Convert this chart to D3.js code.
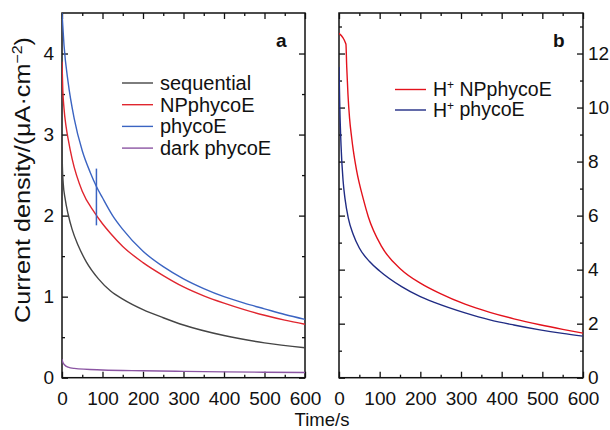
<!DOCTYPE html>
<html>
<head>
<meta charset="utf-8">
<script src="https://cdn.jsdelivr.net/npm/d3@7"></script>
<style>
  body { margin: 0; background: #fff; }
  svg text { font-family: "Liberation Sans", Arial, sans-serif; fill: #111; }
</style>
</head>
<body>
<div id="chart"></div>
<script>
// panel a: time (s) and current density (uA/cm2)
const seqT = [0, 1, 3, 8, 15, 25, 40, 60, 90, 120, 150, 200, 250, 300, 400, 500, 600]
const seqV = [2.85, 2.6, 2.4, 2.2, 2.02, 1.83, 1.63, 1.43, 1.22, 1.07, 0.97, 0.84, 0.74, 0.65, 0.52, 0.43, 0.37]

const npT = [0, 2, 5, 10, 15, 25, 50, 80, 100, 120, 150, 200, 250, 300, 350, 400, 450, 500, 550, 600]
const npV = [3.9, 3.55, 3.32, 3.1, 2.95, 2.7, 2.3, 2.04, 1.9, 1.78, 1.62, 1.42, 1.26, 1.12, 1.01, 0.92, 0.84, 0.77, 0.71, 0.66]

const phT = [0, 5, 15, 30, 50, 70, 85, 100, 125, 150, 200, 250, 300, 350, 400, 450, 500, 550, 600]
const phV = [4.5, 4.1, 3.65, 3.2, 2.8, 2.53, 2.36, 2.22, 2.0, 1.83, 1.56, 1.37, 1.22, 1.1, 1.0, 0.92, 0.85, 0.78, 0.72]

const darkT = [0, 2, 6, 15, 30, 100, 200, 300, 400, 500, 600]
const darkV = [0.23, 0.19, 0.16, 0.13, 0.115, 0.095, 0.085, 0.078, 0.072, 0.068, 0.065]

// error bar on phycoE
const errT = 85
const errLow = 1.88
const errHigh = 2.58

// panel b: proton current
const hNpT = [0, 17, 19, 22, 26, 31, 35, 43, 60, 72, 105, 154, 200, 248, 310, 371, 430, 494, 550, 600]
const hNpV = [12.75, 12.35, 11.5, 10.5, 9.6, 8.9, 8.43, 7.69, 6.6, 5.96, 4.85, 3.99, 3.5, 3.12, 2.72, 2.42, 2.18, 1.96, 1.79, 1.65]

const hPhT = [0, 2, 5, 10, 15, 23, 35, 50, 75, 100, 154, 200, 236, 310, 371, 430, 494, 550, 600]
const hPhV = [11.5, 10.0, 8.6, 7.3, 6.6, 5.9, 5.3, 4.8, 4.3, 3.95, 3.37, 3.0, 2.78, 2.4, 2.14, 1.95, 1.77, 1.64, 1.54]

const xTicks = [0, 100, 200, 300, 400, 500, 600]
const yTicksA = [0, 1, 2, 3, 4]
const yTicksB = [0, 2, 4, 6, 8, 10, 12]

const seriesA = [
  { name: "sequential", t: seqT, v: seqV, color: "#454545" },
  { name: "NPphycoE", t: npT, v: npV, color: "#e0262f" },
  { name: "phycoE", t: phT, v: phV, color: "#3b64c2" },
  { name: "dark phycoE", t: darkT, v: darkV, color: "#8b55a3" },
]
const seriesB = [
  { name: "NPphycoE", t: hNpT, v: hNpV, color: "#e3121c" },
  { name: "phycoE", t: hPhT, v: hPhV, color: "#202c84" },
]

const W = 610, H = 430
const plotTop = 13, plotBottom = 377.7
const svg = d3.select("#chart").append("svg").attr("width", W).attr("height", H)

function frame(x0, x1, yDomain, yMajor, yMinorStep, labelSide) {
  const x = d3.scaleLinear().domain([0, 600]).range([x0, x1])
  const y = d3.scaleLinear().domain(yDomain).range([plotBottom, plotTop])
  const g = svg.append("g")
  const xMinor = d3.range(50, 600, 100)
  const yMinor = d3.range(yMinorStep, yDomain[1], yMinorStep * 2)

  const axes = [
    [d3.axisBottom(x).tickValues(xTicks).tickSize(-6).tickPadding(14), `translate(0,${plotBottom})`],
    [d3.axisBottom(x).tickValues(xMinor).tickSize(-3).tickFormat(""), `translate(0,${plotBottom})`],
    [d3.axisTop(x).tickValues(xTicks).tickSize(-6).tickFormat(""), `translate(0,${plotTop})`],
    [d3.axisTop(x).tickValues(xMinor).tickSize(-3).tickFormat(""), `translate(0,${plotTop})`],
    [d3.axisLeft(y).tickValues(yMajor).tickSize(-6).tickPadding(8)
      .tickFormat(labelSide == "left" ? d3.format("d") : ""), `translate(${x0},0)`],
    [d3.axisLeft(y).tickValues(yMinor).tickSize(-3).tickFormat(""), `translate(${x0},0)`],
    [d3.axisRight(y).tickValues(yMajor).tickSize(-6).tickPadding(5)
      .tickFormat(labelSide == "right" ? d3.format("d") : ""), `translate(${x1},0)`],
    [d3.axisRight(y).tickValues(yMinor).tickSize(-3).tickFormat(""), `translate(${x1},0)`],
  ]
  axes.forEach(([ax, tr]) => {
    const a = g.append("g").attr("transform", tr).call(ax)
    a.select(".domain").remove()
    a.selectAll("line").attr("stroke", "#111").attr("stroke-width", 1.3)
    a.selectAll("text").attr("font-size", 19).style("font-family", "Liberation Sans, Arial, sans-serif")
  })

  g.append("rect")
    .attr("x", x0).attr("y", plotTop)
    .attr("width", x1 - x0).attr("height", plotBottom - plotTop)
    .attr("fill", "none").attr("stroke", "#111").attr("stroke-width", 1.5)

  return { g, x, y }
}

function drawLines(p, series) {
  const clipId = "clip" + Math.round(p.x.range()[0])
  svg.append("clipPath").attr("id", clipId).append("rect")
    .attr("x", p.x.range()[0]).attr("y", plotTop)
    .attr("width", p.x.range()[1] - p.x.range()[0]).attr("height", plotBottom - plotTop)
  const line = d3.line()
    .x((d) => p.x(d[0]))
    .y((d) => p.y(d[1]))
    .curve(d3.curveMonotoneX)
  p.g.append("g").attr("clip-path", `url(#${clipId})`)
    .selectAll("path")
    .data(series)
    .join("path")
    .attr("d", (s) => line(s.t.map((t, i) => [t, s.v[i]])))
    .attr("fill", "none")
    .attr("stroke", (s) => s.color)
    .attr("stroke-width", 1.4)
}

// panel a
const pa = frame(62, 305, [0, 4.5], yTicksA, 0.5, "left")
drawLines(pa, [...seriesA].reverse())
pa.g.append("line")
  .attr("x1", pa.x(errT)).attr("x2", pa.x(errT))
  .attr("y1", pa.y(errLow)).attr("y2", pa.y(errHigh))
  .attr("stroke", "#3b64c2").attr("stroke-width", 1.5)

// panel b
const pb = frame(339, 583, [0, 13.5], yTicksB, 1, "right")
drawLines(pb, seriesB)

// legends
const legA = svg.append("g").attr("transform", "translate(122,83)")
seriesA.forEach((s, i) => {
  const row = legA.append("g").attr("transform", `translate(0,${i * 21.7})`)
  row.append("line").attr("x1", 0).attr("x2", 31)
    .attr("stroke", s.color).attr("stroke-width", 1.4)
  row.append("text").attr("x", 38).attr("dy", "0.35em")
    .attr("font-size", 20).text(s.name)
})

const legB = svg.append("g").attr("transform", "translate(395,89.5)")
seriesB.forEach((s, i) => {
  const row = legB.append("g").attr("transform", `translate(0,${i * 20.5})`)
  row.append("line").attr("x1", 0).attr("x2", 31)
    .attr("stroke", s.color).attr("stroke-width", 1.4)
  const t = row.append("text").attr("x", 38).attr("dy", "0.35em").attr("font-size", 19.5)
  t.append("tspan").text("H")
  t.append("tspan").attr("font-size", 12).attr("dy", "-0.6em").text("+")
  t.append("tspan").attr("dy", "0.35em").text(" " + s.name)
})

// panel letters
svg.append("text").attr("x", 276).attr("y", 47).attr("font-size", 19)
  .attr("font-weight", "bold").text("a")
svg.append("text").attr("x", 553).attr("y", 47).attr("font-size", 19)
  .attr("font-weight", "bold").text("b")

// axis titles
svg.append("text").attr("x", 322).attr("y", 426).attr("text-anchor", "middle")
  .attr("font-size", 18.5).text("Time/s")

const yt = svg.append("text")
  .attr("transform", "translate(30,180) rotate(-90)")
  .attr("text-anchor", "middle").attr("font-size", 22)
  .attr("textLength", 286).attr("lengthAdjust", "spacingAndGlyphs")
yt.append("tspan").text("Current density/(μA·cm")
yt.append("tspan").attr("font-size", 14).attr("dy", "-0.6em").text("−2")
yt.append("tspan").attr("dy", "0.4em").text(")")
</script>
</body>
</html>
